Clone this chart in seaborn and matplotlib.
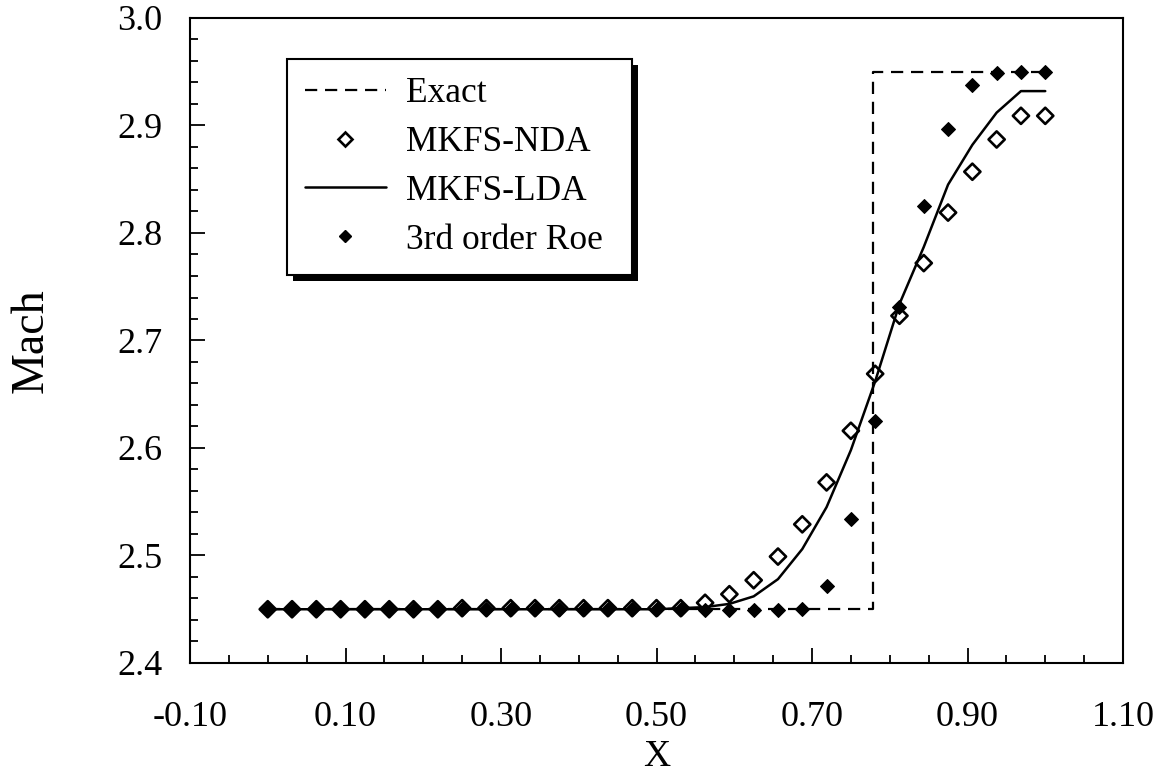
import numpy as np
import pandas as pd
import matplotlib
matplotlib.use("Agg")
import matplotlib.pyplot as plt
import seaborn as sns
from matplotlib.lines import Line2D
from matplotlib.patches import Rectangle
from matplotlib.ticker import MultipleLocator, FormatStrFormatter

# ------------------------
# data
# ------------------------
x_grid = [i / 32 for i in range(33)]

exact_x = [0.0, 0.779, 0.779, 1.0]
exact_y = [2.45, 2.45, 2.95, 2.95]

nda_mach = [2.45] * 8 + [2.451] * 9 + [
    2.451, 2.456, 2.464, 2.477, 2.499, 2.529, 2.568, 2.616, 2.669,
    2.723, 2.772, 2.819, 2.857, 2.887, 2.909, 2.909]

lda_mach = [2.45] * 17 + [
    2.451, 2.452, 2.455, 2.462, 2.478, 2.506, 2.545, 2.598, 2.662,
    2.734, 2.787, 2.845, 2.882, 2.912, 2.932, 2.932]

roe_mach = [2.45] * 18 + [
    2.449, 2.449, 2.449, 2.449, 2.450, 2.472, 2.534, 2.625,
    2.731, 2.825, 2.897, 2.938, 2.949, 2.950, 2.950]

dta = pd.DataFrame({"x": x_grid, "nda": nda_mach, "lda": lda_mach, "roe": roe_mach})
exact = pd.DataFrame({"x": exact_x, "y": exact_y})

# ------------------------
# style
# ------------------------
sns.set_style("ticks")
plt.rcParams["font.family"] = ["Liberation Serif", "DejaVu Serif"]
plt.rcParams["axes.unicode_minus"] = False
plt.rcParams["text.color"] = "black"
plt.rcParams["axes.labelcolor"] = "black"
plt.rcParams["xtick.color"] = "black"
plt.rcParams["ytick.color"] = "black"

fig = plt.figure(figsize=(11.68, 7.74), dpi=100)
ax = fig.add_axes([190 / 1168, 1 - 663 / 774, 933 / 1168, 645 / 774])

# ------------------------
# plot
# ------------------------
sns.lineplot(data=exact, x="x", y="y", ax=ax, color="black", lw=1.6,
             dashes=False, estimator=None, sort=False)
ax.lines[-1].set_dashes([5.5, 3.5])
sns.lineplot(data=dta, x="x", y="lda", ax=ax, color="black", lw=1.8, estimator=None)
sns.scatterplot(data=dta, x="x", y="roe", ax=ax, marker="D", s=50,
                color="black", edgecolor="black", linewidth=0.8, zorder=3)
sns.scatterplot(data=dta, x="x", y="nda", ax=ax, marker="D", s=68,
                facecolors="none", edgecolor="black", linewidth=1.9, zorder=4)

ax.set_xlim(-0.10, 1.10)
ax.set_ylim(2.4, 3.0)
ax.xaxis.set_major_locator(MultipleLocator(0.2, offset=0.1))
ax.xaxis.set_minor_locator(MultipleLocator(0.05))
ax.yaxis.set_major_locator(MultipleLocator(0.1))
ax.yaxis.set_minor_locator(MultipleLocator(0.02))
ax.xaxis.set_major_formatter(FormatStrFormatter("%.2f"))
ax.yaxis.set_major_formatter(FormatStrFormatter("%.1f"))
ax.tick_params(which="both", direction="in", top=False, right=False, width=1.3,
               color="black", labelcolor="black")
ax.tick_params(which="major", length=11, labelsize=26)
ax.tick_params(which="minor", length=6)
ax.tick_params(axis="x", which="major", pad=27)
ax.tick_params(axis="y", which="major", pad=20)
for s in ax.spines.values():
    s.set_linewidth(1.5)
    s.set_color("black")

ax.set_xlabel("X", fontsize=27, labelpad=4, color="black")
ax.set_ylabel("Mach", fontsize=33, labelpad=46, color="black")

handles = [
    Line2D([], [], color="black", lw=1.6, dashes=[5.5, 3.5]),
    Line2D([], [], ls="", marker="D", ms=7.5, mfc="none", mec="black", mew=1.9),
    Line2D([], [], color="black", lw=1.8),
    Line2D([], [], ls="", marker="D", ms=6.5, color="black"),
]
labels = ["Exact", "MKFS-NDA", "MKFS-LDA", "3rd order Roe"]
leg = ax.legend(handles, labels, loc="upper left",
                bbox_to_anchor=(0.104, 0.0, 0.370, 0.936), mode="expand",
                borderaxespad=0, fontsize=25.5, frameon=True, fancybox=False,
                handlelength=2.3, handletextpad=0.55, labelspacing=0.45,
                borderpad=0.5, labelcolor="black")
leg.get_frame().set_edgecolor("black")
leg.get_frame().set_linewidth(1.5)
leg.get_frame().set_alpha(1)

# drop shadow behind the legend box
fig.canvas.draw()
bb = leg.get_window_extent()
shadow = Rectangle((bb.x0 + 6, bb.y0 - 6), bb.width, bb.height, transform=None,
                   facecolor="black", edgecolor="none", zorder=4.5)
ax.add_artist(shadow)
leg.set_zorder(6)

fig.savefig("out.png", dpi=100)
